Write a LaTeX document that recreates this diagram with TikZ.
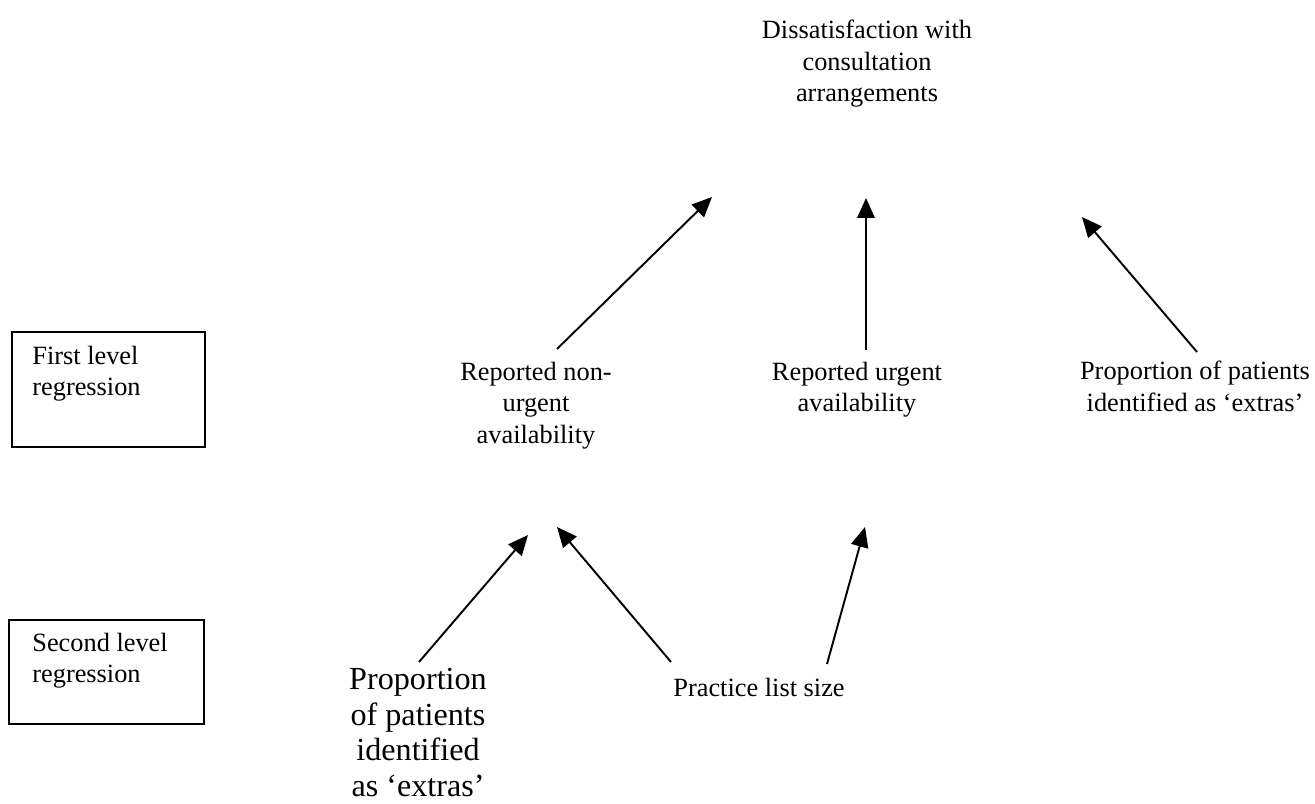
\documentclass[tikz,border=0pt]{standalone}
\usepackage{fontspec}
\setmainfont{Liberation Serif}
\usepackage{tikz}
\usetikzlibrary{arrows.meta}
\usetikzlibrary{positioning}

\begin{document}
\begin{tikzpicture}[x=0.02cm,y=-0.02cm,
		txt/.style={inner sep=0pt,anchor=north,align=center,font=\fontsize{15}{17.8}\selectfont},
		bigtxt/.style={inner sep=0pt,anchor=north,align=center,font=\fontsize{18.3}{20.2}\selectfont},
		lvltxt/.style={inner sep=0pt,anchor=north west,align=left,font=\fontsize{15}{17.8}\selectfont},
		lvlbox/.style={draw,line width=0.9pt},
		arr/.style={line width=1.1pt,-{Triangle[length=4mm,width=3.5mm]}}]
		\useasboundingbox (0,0) rectangle (1315,804);
		\draw[lvlbox] (12,332) rectangle (205,447);
		\draw[lvlbox] (9,620) rectangle (204,724);
		\node[lvltxt] (first) at (32,346) {First level\\regression};
		\node[lvltxt] (second) at (32,633) {Second level\\regression};
		\node[txt] (diss) at (867,20) {Dissatisfaction with\\consultation\\arrangements};
		\node[txt] (nonurg) at (536,362) {Reported non-\\urgent\\availability};
		\node[txt] (urg) at (857,362) {Reported urgent\\availability};
		\node[txt] (extras) at (1195,361) {Proportion of patients\\identified as `extras'};
		\node[bigtxt] (extras2) at (418,668) {Proportion\\of patients\\identified\\as `extras'};
		\node[txt] (listsize) at (759,678) {Practice list size};
		\coordinate (s1) at (557,349);
		\coordinate (t1) at (712,197);
		\coordinate (s2) at (866,350);
		\coordinate (t2) at (866,198);
		\coordinate (s3) at (1197,352);
		\coordinate (t3) at (1082,217);
		\coordinate (s4) at (419,662);
		\coordinate (t4) at (528,535);
		\coordinate (s5) at (671,662);
		\coordinate (t5) at (557,527);
		\coordinate (s6) at (827,664);
		\coordinate (t6) at (865,527);
		\draw[arr] (s1) -- (t1);
		\draw[arr] (s2) -- (t2);
		\draw[arr] (s3) -- (t3);
		\draw[arr] (s4) -- (t4);
		\draw[arr] (s5) -- (t5);
		\draw[arr] (s6) -- (t6);
\end{tikzpicture}
\end{document}
